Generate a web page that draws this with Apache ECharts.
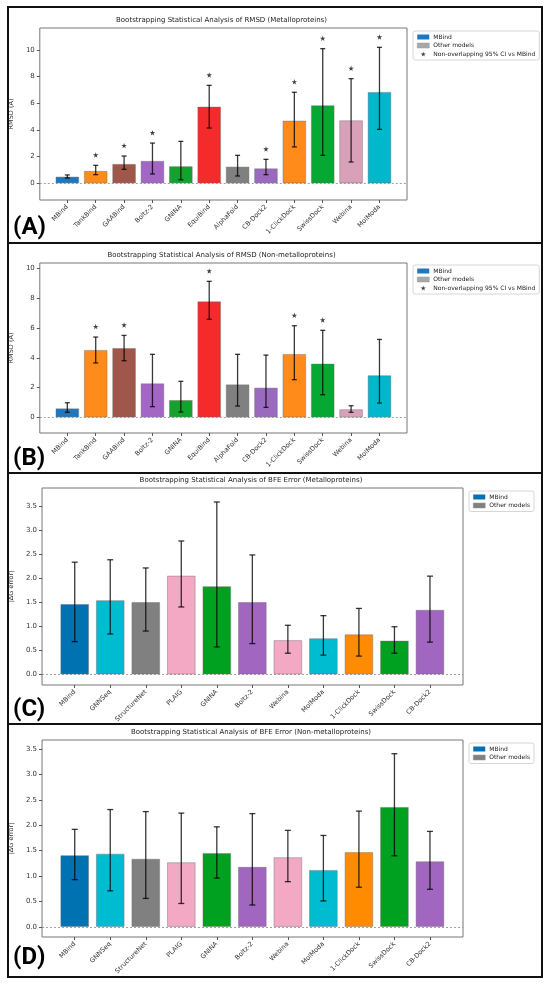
<!DOCTYPE html>
<html>
<head>
<meta charset="utf-8">
<script src="https://cdn.jsdelivr.net/npm/echarts@6/dist/echarts.min.js"></script>
<style>
  html, body { margin: 0; padding: 0; background: #fff; }
  #chart { width: 550px; height: 988px; }
</style>
</head>
<body>
<div id="chart"></div>
<script>
// RMSD panels (A, B): same models
var rmsdModels = ['MBind', 'TankBind', 'GAABind', 'Boltz-2', 'GNINA', 'EquiBind', 'AlphaFold', 'CB-Dock2', '1-ClickDock', 'SwissDock', 'Webina', 'MolModa'];
var rmsdColors = ['#1f78bf', '#ff8c1a', '#a0564a', '#a365c6', '#12a32e', '#f52a2a', '#808080', '#9a6abf', '#ff8c1a', '#06a834', '#d9a1b9', '#00b7cc'];

// (A) metalloproteins
var rmsdMetal = [0.5, 0.93, 1.45, 1.68, 1.28, 5.75, 1.25, 1.12, 4.7, 5.85, 4.72, 6.85];
var rmsdMetalLow = [0.4, 0.65, 1.05, 0.7, 0.27, 4.15, 0.55, 0.65, 2.73, 2.1, 1.6, 4.05];
var rmsdMetalHigh = [0.63, 1.35, 2.05, 3.02, 3.15, 7.35, 2.1, 1.8, 6.83, 10.1, 7.85, 10.2];
var rmsdMetalStar = [0, 1, 1, 1, 0, 1, 0, 1, 1, 1, 1, 1];

// (B) non-metalloproteins
var rmsdNonMetal = [0.6, 4.52, 4.65, 2.28, 1.16, 7.78, 2.21, 1.99, 4.25, 3.6, 0.54, 2.82];
var rmsdNonMetalLow = [0.34, 3.65, 3.8, 0.72, 0.36, 6.58, 0.76, 0.67, 2.53, 1.52, 0.34, 0.96];
var rmsdNonMetalHigh = [0.98, 5.39, 5.5, 4.23, 2.42, 9.13, 4.23, 4.18, 6.15, 5.84, 0.78, 5.23];
var rmsdNonMetalStar = [0, 1, 1, 0, 0, 1, 0, 0, 1, 1, 0, 0];

// BFE panels (C, D)
var bfeModels = ['MBind', 'GNNSeq', 'StructureNet', 'PLAIG', 'GNINA', 'Boltz-2', 'Webina', 'MolModa', '1-ClickDock', 'SwissDock', 'CB-Dock2'];
var bfeColors = ['#0072b2', '#00bcd0', '#808080', '#f3a8c3', '#00a020', '#a066c0', '#f3a8c3', '#00bcd0', '#ff8c00', '#00a020', '#a066c0'];

// (C) metalloproteins
var bfeMetal = [1.46, 1.54, 1.5, 2.05, 1.83, 1.5, 0.71, 0.75, 0.83, 0.7, 1.34];
var bfeMetalLow = [0.68, 0.84, 0.9, 1.4, 0.57, 0.64, 0.44, 0.4, 0.38, 0.44, 0.67];
var bfeMetalHigh = [2.33, 2.38, 2.21, 2.77, 3.58, 2.48, 1.02, 1.22, 1.37, 0.99, 2.04];

// (D) non-metalloproteins
var bfeNonMetal = [1.41, 1.44, 1.34, 1.27, 1.45, 1.18, 1.37, 1.12, 1.47, 2.36, 1.29];
var bfeNonMetalLow = [0.93, 0.71, 0.56, 0.46, 0.96, 0.43, 0.89, 0.51, 0.78, 1.4, 0.74];
var bfeNonMetalHigh = [1.92, 2.31, 2.27, 2.24, 1.97, 2.23, 1.9, 1.8, 2.28, 3.41, 1.88];

// tick labels
var rmsdTicks = [0, 2, 4, 6, 8, 10];
var bfeTicks = [0, 0.5, 1, 1.5, 2, 2.5, 3, 3.5];

var starLabel = 'Non-overlapping 95% CI vs MBind';
var starPath = 'path://M50,0 L61,35 L98,35 L68,57 L79,91 L50,70 L21,91 L32,57 L2,35 L39,35 Z';
var font = 'DejaVu Sans';

var panels = [
  { title: 'Bootstrapping Statistical Analysis of RMSD (Metalloproteins)', cats: rmsdModels, colors: rmsdColors,
    vals: rmsdMetal, low: rmsdMetalLow, high: rmsdMetalHigh, star: rmsdMetalStar, starOff: 0.78,
    ticks: rmsdTicks, yName: 'RMSD (Å)', ymin: -1.25, ymax: 11.65, xmin: -0.97, xmax: 11.97,
    grid: { left: 36, top: 28, width: 371, height: 172 }, legend: { left: 413, top: 31 },
    barW: 23.5, cap: 2.5, otherColor: '#a8a8a8', box: [8, 7, 534, 236], label: '(A)', labelY: 228 },
  { title: 'Bootstrapping Statistical Analysis of RMSD (Non-metalloproteins)', cats: rmsdModels, colors: rmsdColors,
    vals: rmsdNonMetal, low: rmsdNonMetalLow, high: rmsdNonMetalHigh, star: rmsdNonMetalStar, starOff: 0.7,
    ticks: rmsdTicks, yName: 'RMSD (Å)', ymin: -1.05, ymax: 10.36, xmin: -0.97, xmax: 11.97,
    grid: { left: 36, top: 263, width: 371, height: 170 }, legend: { left: 413, top: 265 },
    barW: 23.5, cap: 2.5, otherColor: '#a8a8a8', box: [8, 243, 534, 230], label: '(B)', labelY: 459 },
  { title: 'Bootstrapping Statistical Analysis of BFE Error (Metalloproteins)', cats: bfeModels, colors: bfeColors,
    vals: bfeMetal, low: bfeMetalLow, high: bfeMetalHigh, star: null,
    ticks: bfeTicks, yName: '|ΔG error|', ymin: -0.22, ymax: 3.87, xmin: -0.92, xmax: 10.93,
    grid: { left: 39, top: 488, width: 424, height: 197 }, legend: { left: 469, top: 491 },
    barW: 28.5, cap: 3, otherColor: '#808080', box: [8, 473, 534, 251], label: '(C)', labelY: 710 },
  { title: 'Bootstrapping Statistical Analysis of BFE Error (Non-metalloproteins)', cats: bfeModels, colors: bfeColors,
    vals: bfeNonMetal, low: bfeNonMetalLow, high: bfeNonMetalHigh, star: null,
    ticks: bfeTicks, yName: '|ΔG error|', ymin: -0.2, ymax: 3.68, xmin: -0.92, xmax: 10.93,
    grid: { left: 39, top: 740, width: 424, height: 197 }, legend: { left: 469, top: 743 },
    barW: 28.5, cap: 3, otherColor: '#808080', box: [8, 724, 534, 253], label: '(D)', labelY: 958 }
];

function errorBar(cap) {
  return function (params, api) {
    var x = api.value(0);
    var lo = api.coord([x, api.value(1)]);
    var hi = api.coord([x, api.value(2)]);
    var st = { stroke: 'rgba(0,0,0,0.78)', lineWidth: 1.3 };
    return {
      type: 'group',
      children: [
        { type: 'line', shape: { x1: lo[0], y1: lo[1], x2: hi[0], y2: hi[1] }, style: st },
        { type: 'line', shape: { x1: hi[0] - cap, y1: hi[1], x2: hi[0] + cap, y2: hi[1] }, style: st },
        { type: 'line', shape: { x1: lo[0] - cap, y1: lo[1], x2: lo[0] + cap, y2: lo[1] }, style: st }
      ]
    };
  };
}

var myChart = echarts.init(document.getElementById('chart'));

var option = {
  animation: false,
  backgroundColor: '#fff',
  title: [], grid: [], xAxis: [], yAxis: [], legend: [], series: [], graphic: []
};

panels.forEach(function (p, k) {
  var idx = p.cats.map(function (c, i) { return i; });

  option.title.push({
    text: p.title, left: p.grid.left + p.grid.width / 2, top: p.grid.top - 11, textAlign: 'center', padding: 0,
    textStyle: { fontFamily: font, fontSize: 7, fontWeight: 'normal', color: '#222' }
  });

  option.grid.push({
    left: p.grid.left, top: p.grid.top, width: p.grid.width, height: p.grid.height,
    show: true, borderColor: '#777', borderWidth: 1, containLabel: false
  });

  option.xAxis.push({
    type: 'value', gridIndex: k, min: p.xmin, max: p.xmax, position: 'bottom',
    axisLine: { show: false, onZero: false }, splitLine: { show: false },
    axisTick: { show: true, customValues: idx, length: 3, lineStyle: { color: '#555' } },
    axisLabel: {
      customValues: idx, rotate: 45, margin: 6, fontFamily: font, fontSize: 6.5, color: '#333',
      formatter: function (v) { return p.cats[Math.round(v)]; }
    }
  });

  option.yAxis.push({
    type: 'value', gridIndex: k, min: p.ymin, max: p.ymax, position: 'left',
    name: p.yName, nameLocation: 'middle', nameGap: k < 2 ? 20 : 22,
    nameTextStyle: { fontFamily: font, fontSize: 6.5, color: '#333' },
    axisLine: { show: false, onZero: false }, splitLine: { show: false },
    axisTick: { show: true, customValues: p.ticks, length: 3, lineStyle: { color: '#555' } },
    axisLabel: {
      customValues: p.ticks, margin: 5, fontFamily: font, fontSize: 7, color: '#333',
      formatter: function (v) { return k < 2 ? String(v) : v.toFixed(1); }
    }
  });

  var legendData = [
    { name: 'MBind', icon: 'rect', itemStyle: { color: p.colors[0], borderWidth: 0 } },
    { name: 'Other models', icon: 'rect', itemStyle: { color: p.otherColor, borderColor: '#999', borderWidth: 0.5 } }
  ];
  if (p.star) legendData.push({ name: starLabel, icon: starPath, itemStyle: { color: '#111' } });
  option.legend.push({
    left: p.legend.left, top: p.legend.top, orient: 'vertical', data: legendData,
    itemWidth: 12, itemHeight: 5, itemGap: 2.5, padding: [3, 4, 3, 4],
    borderColor: '#ccc', borderWidth: 0.8, borderRadius: 2, selectedMode: false,
    textStyle: { fontFamily: font, fontSize: 6, color: '#222', padding: [0, 0, 0, -1] }
  });

  var barItems = p.vals.map(function (v, i) {
    return { value: [i, v], itemStyle: { color: p.colors[i] } };
  });
  var barStyle = { borderColor: 'rgba(110,110,110,0.55)', borderWidth: 0.8 };

  option.series.push({
    name: 'MBind', type: 'bar', xAxisIndex: k, yAxisIndex: k, barWidth: p.barW, barGap: '-100%',
    itemStyle: Object.assign({ color: p.colors[0] }, barStyle), data: barItems.slice(0, 1),
    markLine: {
      silent: true, symbol: 'none', label: { show: false },
      lineStyle: { type: [2, 2], color: '#888', width: 0.8 }, data: [{ yAxis: 0 }]
    }
  });
  option.series.push({
    name: 'Other models', type: 'bar', xAxisIndex: k, yAxisIndex: k, barWidth: p.barW, barGap: '-100%',
    itemStyle: Object.assign({ color: p.otherColor }, barStyle), data: barItems.slice(1)
  });
  option.series.push({
    name: 'CI', type: 'custom', xAxisIndex: k, yAxisIndex: k, z: 5,
    renderItem: errorBar(p.cap), encode: { x: 0, y: [1, 2] },
    data: p.vals.map(function (v, i) { return [i, p.low[i], p.high[i]]; })
  });
  if (p.star) {
    option.series.push({
      name: starLabel, type: 'scatter', xAxisIndex: k, yAxisIndex: k, symbol: starPath, symbolSize: 5.5,
      itemStyle: { color: '#111' }, z: 6,
      data: idx.filter(function (i) { return p.star[i]; }).map(function (i) { return [i, p.high[i] + p.starOff]; })
    });
  }

  option.graphic.push({
    type: 'rect', shape: { x: p.box[0], y: p.box[1], width: p.box[2], height: p.box[3] },
    style: { fill: 'none', stroke: '#111', lineWidth: 2 }, z: 100
  });
  option.graphic.push({
    type: 'text', x: 13, y: p.labelY, z: 100,
    style: { text: p.label, font: 'bold 24px Roboto', fill: '#000', verticalAlign: 'middle' }
  });
});

myChart.setOption(option);
</script>
</body>
</html>
